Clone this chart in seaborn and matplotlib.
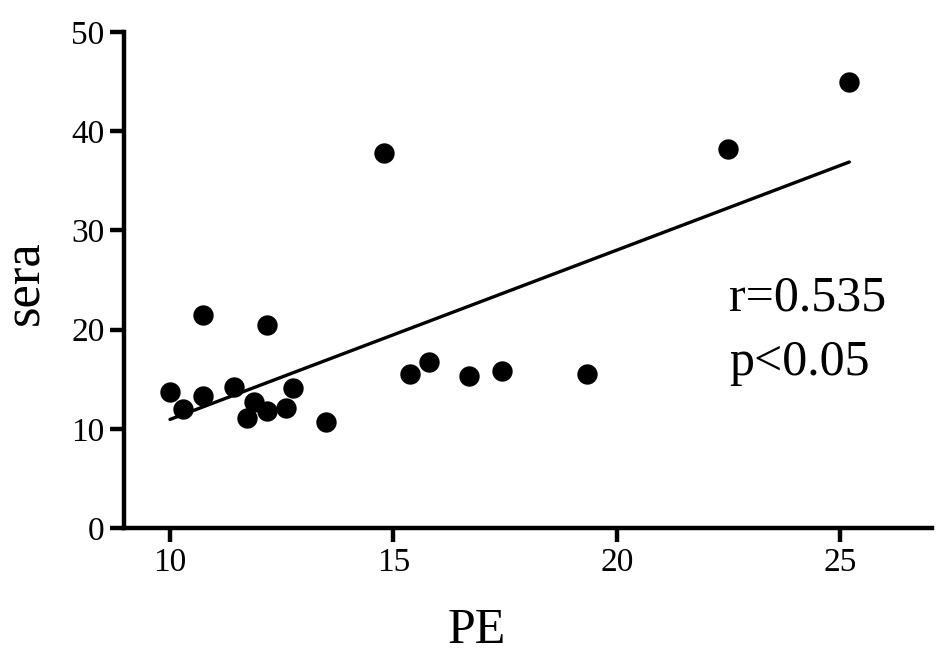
import matplotlib
matplotlib.use("Agg")
import matplotlib.pyplot as plt
import seaborn as sns

# values
pe = [10.0, 10.28, 10.73, 10.73, 11.43, 11.73, 11.88, 12.16, 12.18, 12.60,
      12.75, 13.48, 14.78, 15.36, 15.80, 16.69, 17.42, 19.34, 22.48, 25.20]
sera = [13.7, 12.0, 13.3, 21.5, 14.2, 11.1, 12.7, 11.8, 20.5, 12.1,
        14.1, 10.7, 37.8, 15.5, 16.7, 15.3, 15.8, 15.5, 38.2, 45.0]
x_ticks = [10, 15, 20, 25]
y_ticks = [0, 10, 20, 30, 40, 50]
stats_lines = ["r=0.535", "p<0.05"]

sns.set_style("ticks")
plt.rcParams['font.family'] = ['Liberation Serif', 'DejaVu Serif']
plt.rcParams.update({'text.color': 'black', 'axes.labelcolor': 'black',
                     'xtick.color': 'black', 'ytick.color': 'black'})

fig = plt.figure(figsize=(9.45, 6.59), dpi=100)
ax = fig.add_axes([0.1312, 0.1988, 0.8550, 0.7526])

# scatter + least squares line
sns.regplot(x=pe, y=sera, ax=ax, ci=None, color='black',
            scatter_kws=dict(s=215, linewidths=0, alpha=1),
            line_kws=dict(lw=2.4))

ax.set_xlim(8.97, 27.05)
ax.set_ylim(0, 50)
ax.set_xticks(x_ticks)
ax.set_yticks(y_ticks)
ax.tick_params(axis='both', labelsize=24, length=10, width=3.2, color='black',
               labelcolor='black', pad=4)

sns.despine(ax=ax)
for side in ['left', 'bottom']:
    ax.spines[side].set_linewidth(3.2)
    ax.spines[side].set_color('black')

ax.set_xlabel("PE", fontsize=36)
ax.xaxis.label.set_va('baseline')
ax.xaxis.set_label_coords(0.436, -0.232)
ax.set_ylabel("sera", fontsize=38)
ax.yaxis.label.set_va('center')
ax.yaxis.label.set_ha('center')
ax.yaxis.set_label_coords(-0.1225, 0.494)

ax.text(0.749, 0.4395, stats_lines[0], transform=ax.transAxes, fontsize=36, va='baseline')
ax.text(0.749, 0.3085, stats_lines[1], transform=ax.transAxes, fontsize=36, va='baseline')

plt.savefig("out.png", dpi=100)
